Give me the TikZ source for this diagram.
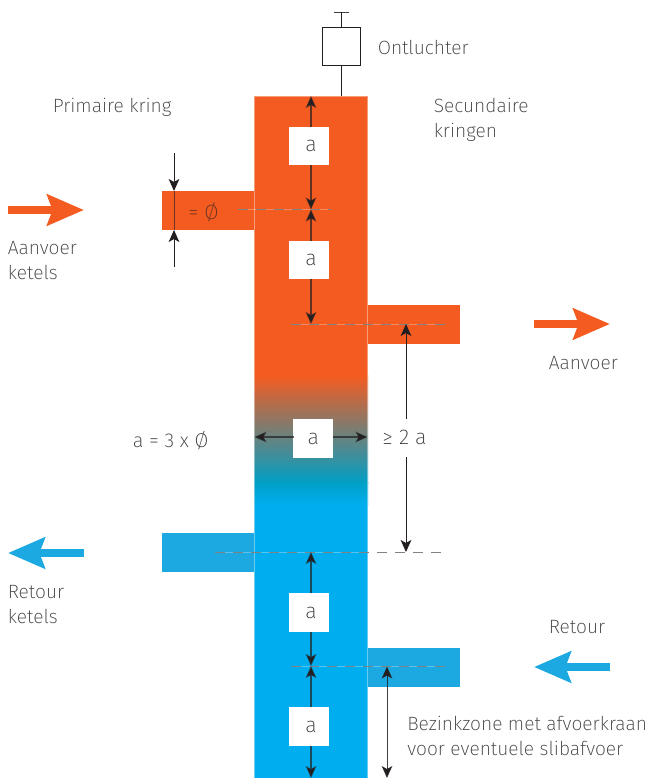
\documentclass[tikz,border=0pt]{standalone}
\usepackage{fontspec}
\setmainfont{Fira Sans ExtraLight}
\usetikzlibrary{arrows.meta}
\definecolor{hot}{HTML}{F45B20}
\definecolor{cold}{HTML}{00AEEF}
\definecolor{coldstub}{HTML}{1CA9E1}
\definecolor{mixc}{HTML}{00A0C6}
\definecolor{txt}{HTML}{3F4042}
\definecolor{ink}{HTML}{231F20}
\definecolor{dashc}{HTML}{808285}
\tikzset{
 lbl/.style={text=txt,font=\fontsize{14.4}{18.75}\selectfont,inner sep=0pt,anchor=west,align=left},
 abox/.style={fill=white,text=txt,font=\fontsize{16}{18}\selectfont,inner sep=0pt,minimum width=30pt,minimum height=29pt},
 dim/.style={draw=ink,line width=.75pt,{Stealth[length=9pt,width=8pt,inset=2.2pt]}-{Stealth[length=9pt,width=8pt,inset=2.2pt]}},
 dimend/.style={draw=ink,line width=.75pt,-{Stealth[length=9pt,width=8pt,inset=2.2pt]}},
 dimcol/.style={draw=ink,line width=1pt,-{Stealth[length=9pt,width=8pt,inset=2.2pt]}},
 dimin/.style={draw=ink,opacity=.65,line width=.75pt},
 plain/.style={draw=ink,line width=.7pt},
 big/.style={line width=6pt,-{Stealth[length=27.5pt,width=23pt,inset=4pt]}},
 centre/.style={draw=dashc,line width=.8pt,dash pattern=on 7.5pt off 6pt},
 seam/.style={draw=white,opacity=.3,line width=.7pt},
}
\begin{document}
\begin{tikzpicture}[x=.75pt,y=-.75pt]
\useasboundingbox (0,0) rectangle (650,778);
% column
\fill[hot] (254,96) rectangle (368,376);
\shade[top color=hot,bottom color=mixc] (254,375.5) rectangle (368,483);
\shade[top color=mixc,bottom color=cold] (254,482.5) rectangle (368,505);
\fill[cold] (254,504.5) rectangle (368,778);
\draw[draw=white,opacity=.4,line width=.9pt] (254.5,778) -- (254.5,96) -- (367.5,96) -- (367.5,778);
% stubs
\fill[hot] (162,191) rectangle (254,230);
\fill[hot] (368,305) rectangle (460,344);
\fill[coldstub] (162,533) rectangle (254,572);
\fill[coldstub] (368,648) rectangle (460,687);
% vent
\coordinate (captl) at (334,12);
\coordinate (captr) at (349,12);
\coordinate (captop) at (341.5,12);
\coordinate (coltop) at (341.5,96);
\node[draw=ink,line width=.7pt,minimum width=28.5pt,minimum height=28.5pt,inner sep=0pt] (vent) at (341.5,46) {};
\draw[plain,draw=txt] (captl) -- (captr);
\draw[plain] (captop) -- (vent.north);
\draw[plain] (vent.south) -- (coltop);
% centre lines
\coordinate (c1a) at (238,209.5); \coordinate (c1b) at (331,209.5);
\coordinate (c2a) at (291,324.5); \coordinate (c2b) at (445,324.5);
\coordinate (c3a) at (215,552.5); \coordinate (c3b) at (445,552.5);
\coordinate (c4a) at (291,666.5); \coordinate (c4b) at (445,666.5);
\foreach \p/\q in {c1a/c1b,c2a/c2b,c3a/c3b,c4a/c4b}{\draw[seam] (\p) -- (\q); \draw[centre] (\p) -- (\q);}
% a boxes
\node[abox] (a1) at (309,146) {\raisebox{-1pt}{\hspace{3pt}a}};
\node[abox] (a2) at (309,260) {\raisebox{-1pt}{\hspace{3pt}a}};
\node[abox] (a3) at (313.3,438.5) {a};
\node[abox] (a4) at (309,612.5) {\raisebox{-1pt}{\hspace{3pt}a}};
\node[abox] (a5) at (309,726.5) {\raisebox{-1pt}{\hspace{3pt}a}};
% vertical dimensions inside the column
\coordinate (v0) at (311,96); \coordinate (v1) at (311,209.5);
\coordinate (v2) at (311,324); \coordinate (v3) at (311,552);
\coordinate (v4) at (311,666); \coordinate (v5) at (311,778);
\coordinate (a1t) at (311,127); \coordinate (a1b) at (311,165);
\coordinate (a2t) at (311,241); \coordinate (a2b) at (311,279);
\coordinate (a4t) at (311,593); \coordinate (a4b) at (311,632);
\coordinate (a5t) at (311,707); \coordinate (a5b) at (311,746);
\foreach \p/\q in {a1t/v0,a1b/v1,a2t/v1,a2b/v2,a4t/v3,a4b/v4,a5t/v4,a5b/v5}{
 \draw[dimcol,draw opacity=.7] (\p) -- (\q);
}
% horizontal
\coordinate (hl) at (254.5,437); \coordinate (hr) at (367.5,437);
\coordinate (a3l) at (293.5,437); \coordinate (a3r) at (333,437);
\draw[dimcol,draw opacity=.7] (a3l) -- (hl);
\draw[dimcol,draw opacity=.7] (a3r) -- (hr);
% diameter
\coordinate (d0) at (174,153); \coordinate (d1) at (174,191);
\coordinate (d2) at (174,267); \coordinate (d3) at (174,230);
\draw[dimend] (d0) -- (d1);
\draw[dimend] (d2) -- (d3);
\draw[dimin] (d1) -- (d3);
\node[text=ink!65!hot,font=\fontsize{15.5}{18}\selectfont,inner sep=0pt] (dia) at (203.5,212.5) {= Ø};
% >= 2a
\node[lbl,anchor=center,font=\fontsize{16}{18}\selectfont] (ge) at (404.5,437) {≥ 2 a};
\coordinate (g1) at (406,324); \coordinate (g2) at (406,552);
\coordinate (g1b) at (406,419); \coordinate (g2b) at (406,457);
\draw[dimend] (g1b) -- (g1);
\draw[dimend] (g2b) -- (g2);
% bezink
\coordinate (b1) at (387,666.5); \coordinate (b2) at (387,778);
\draw[dim,draw opacity=.85] (b1) -- (b2);
% big arrows
\coordinate (A1s) at (8,210); \coordinate (A1e) at (84,210);
\coordinate (A2s) at (534,324); \coordinate (A2e) at (610,324);
\coordinate (A3s) at (84,553); \coordinate (A3e) at (8,553);
\coordinate (A4s) at (610,667); \coordinate (A4e) at (534,667);
\draw[big,draw=hot,fill=hot] (A1s) -- (A1e);
\draw[big,draw=hot,fill=hot] (A2s) -- (A2e);
\draw[big,draw=coldstub,fill=coldstub] (A3s) -- (A3e);
\draw[big,draw=coldstub,fill=coldstub] (A4s) -- (A4e);
% labels
\node[lbl] (t1) at (377.5,47.5) {Ontluchter};
\node[lbl] (t2) at (52.5,107) {Primaire kring};
\node[lbl] (t3) at (433.5,119.5) {Secundaire\\kringen};
\node[lbl] (t4) at (7.5,261) {Aanvoer\\ketels};
\node[lbl] (t5) at (548.5,363) {Aanvoer};
\node[lbl,font=\fontsize{15}{18}\selectfont] (t6) at (132.5,440.5) {a = 3 x Ø};
\node[lbl] (t7) at (7.5,605) {Retour\\ketels};
\node[lbl] (t8) at (548.5,627) {Retour};
\node[lbl] (t9) at (407,736) {Bezinkzone met afvoerkraan\\voor eventuele slibafvoer};
\end{tikzpicture}
\end{document}
